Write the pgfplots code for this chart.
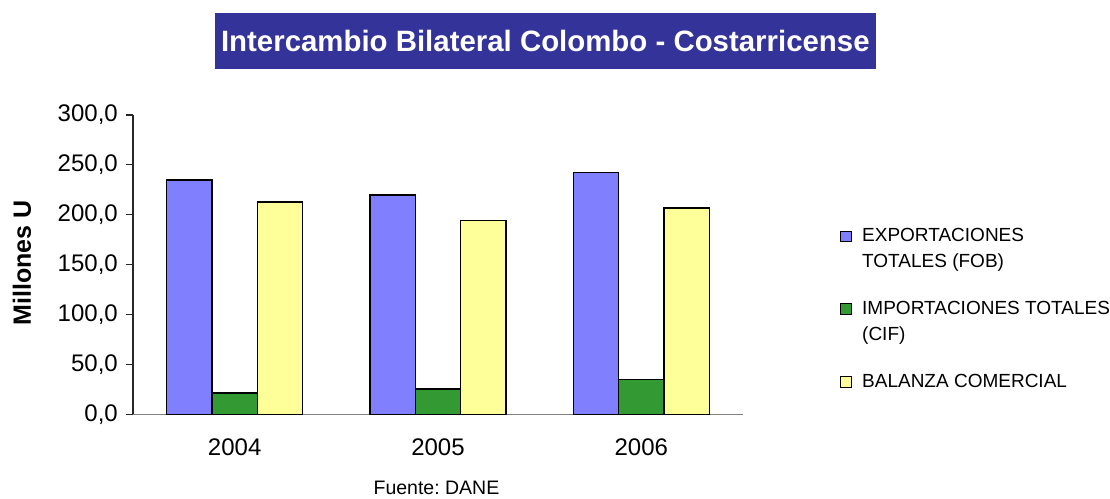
\documentclass[border=0pt]{standalone}
\usepackage{pgfplots}
\pgfplotsset{compat=1.18}
\usepackage{fontspec}
\setmainfont{Liberation Sans}
\definecolor{serA}{HTML}{8080FF}
\definecolor{serB}{HTML}{339933}
\definecolor{serC}{HTML}{FFFF99}
\definecolor{titlebg}{HTML}{333399}
\definecolor{axgray}{HTML}{808080}
\newcommand{\twolines}[2]{\vtop{\baselineskip=26pt\hbox{#1}\hbox{#2}}}
\pgfplotsset{
  sqlegend/.style={legend image code/.code={\draw[##1,draw=black,line width=1pt] (0pt,0pt) rectangle (11pt,10.5pt);}}
}
\begin{document}
\frenchspacing
\begin{tikzpicture}[x=1pt,y=1pt]
\path[use as bounding box] (0,0) rectangle (1110,498);
\begin{axis}[
  at={(133pt,83.7pt)}, anchor=south west,
  scale only axis, width=610pt, height=299.3pt,
  xmin=-0.5, xmax=2.5, ymin=0, ymax=300,
  ybar=0pt, bar width=45.3pt,
  axis x line*=bottom, axis y line*=left,
  x axis line style={axgray, line width=1.2pt},
  y axis line style={black!85, line width=1.2pt},
  xtick={0,1,2}, xticklabels={2004,2005,2006},
  major x tick style={draw=none},
  extra x ticks={-0.5,0.5,1.5,2.5}, extra x tick labels={},
  extra x tick style={major tick length=8pt, tick align=outside, major tick style={axgray, line width=1.2pt}},
  ytick={0,50,...,300},
  major y tick style={black!85, line width=1.2pt},
  major tick length=7pt, tick align=outside,
  yticklabel style={font=\fontsize{24}{24}\selectfont, inner sep=0pt, anchor=east, xshift=-8pt},
  xticklabel style={font=\fontsize{24}{24}\selectfont, inner sep=0pt, anchor=center, yshift=-26pt},
  /pgf/number format/.cd, fixed, fixed zerofill, precision=1, use comma, 1000 sep={}, assume math mode=true,
  /pgfplots/.cd,
  ylabel={Millones U},
  every axis y label/.style={at={(axis description cs:-0.182,0.505)}, rotate=90, anchor=center, font=\bfseries\fontsize{25}{25}\selectfont},
  xlabel={Fuente: DANE},
  every axis x label/.style={at={(axis description cs:0.4975,-0.2696)}, anchor=base, inner sep=0pt, font=\fontsize{19.5}{20}\selectfont},
  title={Intercambio Bilateral Colombo - Costarricense},
  every axis title/.style={at={(axis description cs:0.676,1.2473)}, anchor=center, fill=titlebg, text=white, minimum width=661pt, minimum height=56pt, inner sep=0pt, font=\bfseries\fontsize{29.4}{30}\selectfont},
  legend style={at={(axis description cs:1.159,0.627)}, anchor=north west, draw=none, fill=none, inner sep=0pt,
    cells={anchor=base west}, row sep=52.6pt, column sep=10pt,
    nodes={inner sep=0pt, text height=15pt, text depth=5pt, font=\fontsize{19}{26}\selectfont}},
]
\addplot[fill=serA, draw=black, line width=1.5pt, sqlegend] coordinates {(0,235.0) (1,220.0) (2,242.6)};
\addplot[fill=serB, draw=black, line width=1.5pt, sqlegend] coordinates {(0,21.6) (1,25.6) (2,35.0)};
\addplot[fill=serC, draw=black, line width=1.5pt, sqlegend] coordinates {(0,213.0) (1,194.3) (2,207.0)};
\legend{\twolines{EXPORTACIONES}{TOTALES (FOB)}, \twolines{IMPORTACIONES TOTALES}{(CIF)}, BALANZA COMERCIAL}
\end{axis}
\end{tikzpicture}
\end{document}
